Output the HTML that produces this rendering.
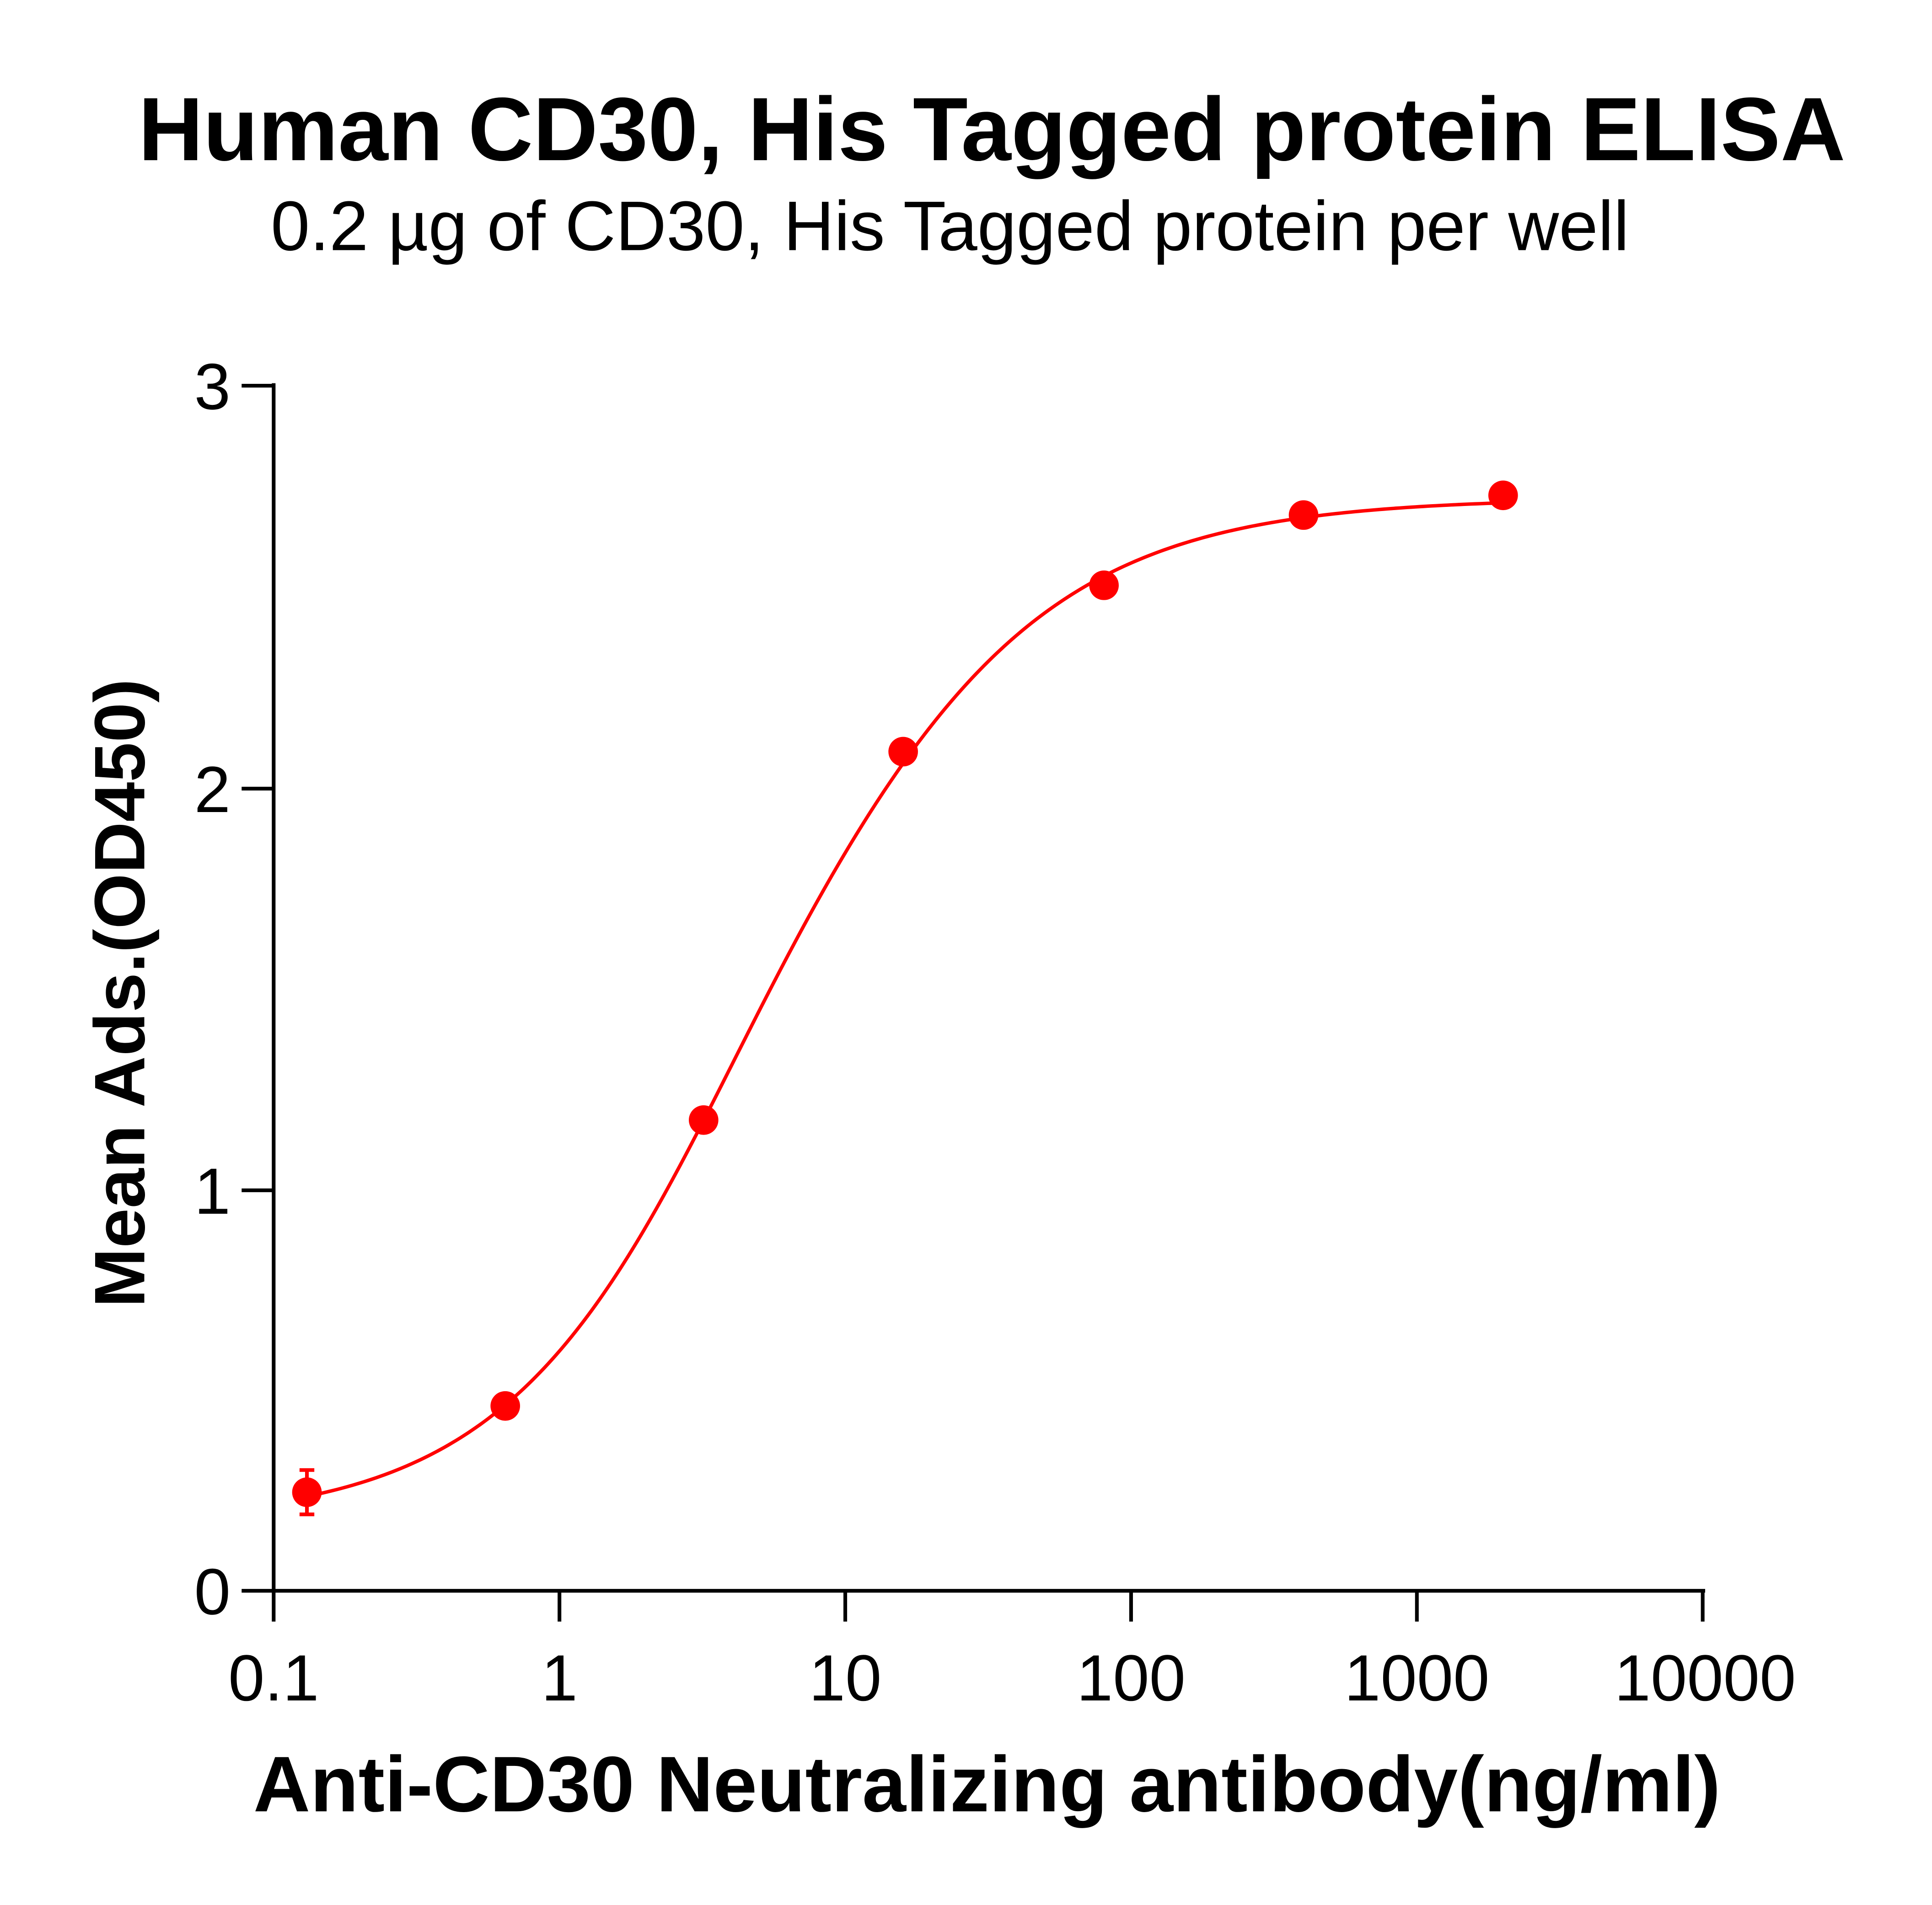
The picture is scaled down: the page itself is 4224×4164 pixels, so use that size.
<!DOCTYPE html>
<html><head><meta charset="utf-8"><style>
html,body{margin:0;padding:0;background:#fff;}
svg{display:block;}
text{font-family:"Liberation Sans",Arial,sans-serif;fill:#000;}
</style></head><body>
<svg width="4224" height="4164" viewBox="0 0 1568 1546" xmlns="http://www.w3.org/2000/svg">
<rect width="1568" height="1546" fill="#fff"/>
<text x="805" y="130" font-size="73" font-weight="bold" text-anchor="middle">Human CD30, His Tagged protein ELISA</text>
<text x="771" y="203" font-size="57" text-anchor="middle">0.2 µg of CD30, His Tagged protein per well</text>
<g stroke="#000" stroke-width="3" fill="none">
<line x1="222" y1="311" x2="222" y2="1292"/>
<line x1="221" y1="1291" x2="1384" y2="1291"/>
<line x1="196" y1="313" x2="222" y2="313"/>
<line x1="196" y1="640" x2="222" y2="640"/>
<line x1="196" y1="966" x2="222" y2="966"/>
<line x1="196" y1="1291" x2="222" y2="1291"/>
<line x1="222" y1="1291" x2="222" y2="1316"/>
<line x1="454" y1="1291" x2="454" y2="1316"/>
<line x1="686" y1="1291" x2="686" y2="1316"/>
<line x1="918" y1="1291" x2="918" y2="1316"/>
<line x1="1150" y1="1291" x2="1150" y2="1316"/>
<line x1="1382" y1="1291" x2="1382" y2="1316"/>
</g>
<g font-size="53" text-anchor="end">
<text x="187" y="332">3</text>
<text x="187" y="659">2</text>
<text x="187" y="985">1</text>
<text x="187" y="1310">0</text>
</g>
<g font-size="53" text-anchor="middle">
<text x="222" y="1380">0.1</text>
<text x="454" y="1380">1</text>
<text x="686" y="1380">10</text>
<text x="918" y="1380">100</text>
<text x="1150" y="1380">1000</text>
<text x="1384" y="1380">10000</text>
</g>
<text x="801" y="1470" font-size="64" font-weight="bold" text-anchor="middle">Anti-CD30 Neutralizing antibody(ng/ml)</text>
<text transform="translate(117,806) rotate(-90)" font-size="58" font-weight="bold" text-anchor="middle">Mean Ads.(OD450)</text>
<path id="curve" fill="none" stroke="#ff0000" stroke-width="2.8"/>
<g stroke="#ff0000" stroke-width="3">
<line x1="249" y1="1193" x2="249" y2="1229"/>
<line x1="243" y1="1193" x2="255" y2="1193"/>
<line x1="243" y1="1229" x2="255" y2="1229"/>
</g>
<g fill="#ff0000">
<circle cx="249" cy="1211" r="12"/>
<circle cx="410" cy="1141" r="12"/>
<circle cx="571" cy="909" r="12"/>
<circle cx="733" cy="610" r="12"/>
<circle cx="896" cy="475" r="12"/>
<circle cx="1058" cy="418" r="12"/>
<circle cx="1220" cy="402" r="12"/>
</g>
<script>
(function(){
var d="";
for(var i=0;i<=300;i++){
var lx=Math.log10(0.128)+i*(Math.log10(2000)-Math.log10(0.128))/300;
var x=Math.pow(10,lx);
var h=0.95-0.05*Math.tanh(Math.log(x/5));
var y=0.17+2.55/(1+Math.pow(5/x,h));
var px=222+232.1*(lx+1), py=1291-326*y;
d+=(i?"L":"M")+px.toFixed(2)+","+py.toFixed(2);
}
document.getElementById("curve").setAttribute("d",d);
})();
</script>
</svg>
</body></html>
